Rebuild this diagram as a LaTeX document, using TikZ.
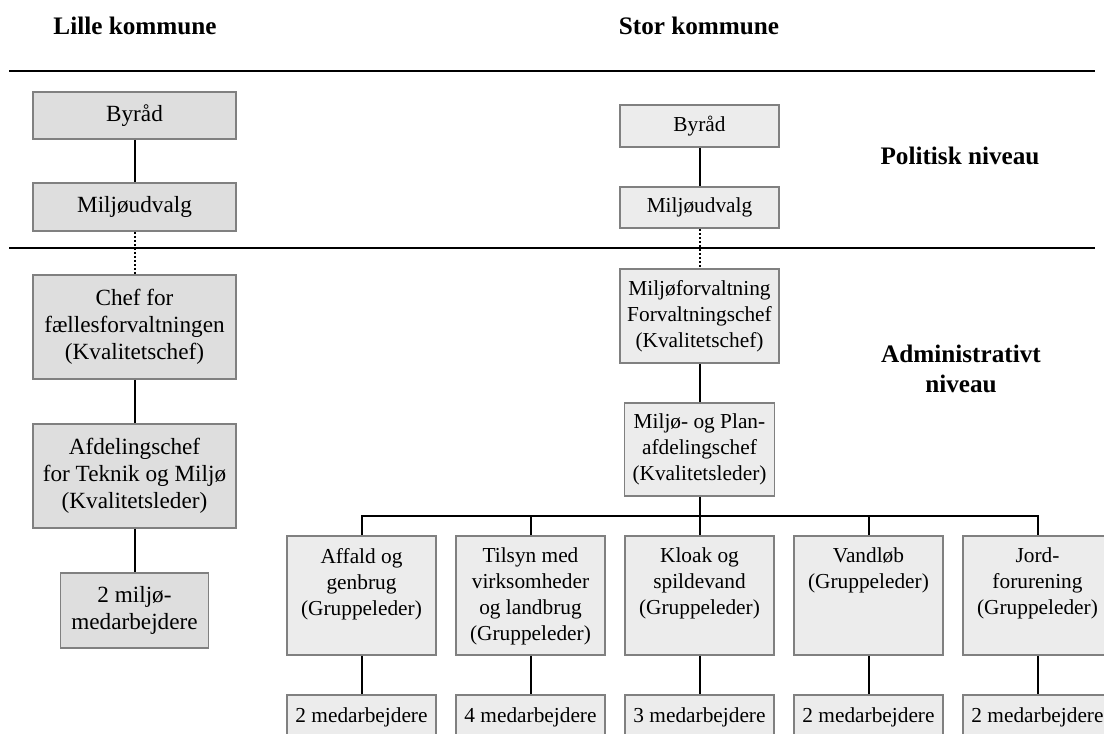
\documentclass[tikz,border=0pt]{standalone}
\usepackage{fontspec}
\setmainfont{Liberation Serif}
\definecolor{boxL}{HTML}{DEDEDE}
\definecolor{boxR}{HTML}{ECECEC}
\definecolor{edge}{HTML}{808080}
\begin{document}
\begin{tikzpicture}[x=0.75pt,y=-0.75pt,
  lbox/.style={draw=edge,line width=1.2pt,fill=boxL,inner sep=0pt,align=center,
    font=\fontsize{17.4}{20.3}\selectfont},
  rbox/.style={draw=edge,line width=1.2pt,fill=boxR,inner sep=0pt,align=center,
    font=\fontsize{16}{19.5}\selectfont},
  head/.style={font=\fontsize{18.9}{22.5}\selectfont\bfseries,align=center,inner sep=0pt},
  conn/.style={line width=1.5pt},
  dotconn/.style={line width=1.5pt,dash pattern=on 2pt off 1pt},
  rule/.style={line width=1.5pt}]
\useasboundingbox (0,0) rectangle (1104,734);
\clip (0,0) rectangle (1104,734);
% headers
\node[head,anchor=base] (hl) at (135,35) {Lille kommune};
\node[head,anchor=base] (hs) at (699,35) {Stor kommune};
\node[head,anchor=base] (hp) at (960,165) {Politisk niveau};
\node[head] (ha) at (961,369) {Administrativt\\niveau};
% rules
\coordinate (r1a) at (9,71); \coordinate (r1b) at (1095,71);
\coordinate (r2a) at (9,248); \coordinate (r2b) at (1095,248);
\draw[rule] (r1a) -- (r1b);
\draw[rule] (r2a) -- (r2b);
% left column
\node[lbox,minimum width=152.25pt,minimum height=35.25pt] (lb) at (134.5,115.5) {Byråd};
\node[lbox,minimum width=152.25pt,minimum height=36pt] (lm) at (134.5,207) {Miljøudvalg};
\node[lbox,minimum width=152.25pt,minimum height=78pt] (lc) at (134.5,327) {Chef for\\fællesforvaltningen\\(Kvalitetschef)};
\node[lbox,minimum width=152.25pt,minimum height=78pt] (la) at (134.5,476) {Afdelingschef\\for Teknik og Miljø\\(Kvalitetsleder)};
\node[lbox,minimum width=111pt,minimum height=56.25pt] (l2) at (134.5,610.5) {2 miljø-\\medarbejdere};
\draw[conn] (lb) -- (lm);
\draw[dotconn] (lm) -- (lc);
\draw[conn] (lc) -- (la);
\draw[conn] (la) -- (l2);
% right column
\node[rbox,minimum width=119.25pt,minimum height=31.5pt] (rb) at (699.5,126) {Byråd};
\node[rbox,minimum width=119.25pt,minimum height=30.75pt] (rm) at (699.5,207.5) {Miljøudvalg};
\node[rbox,minimum width=119.25pt,minimum height=70.5pt] (rf) at (699.5,316) {Miljøforvaltning\\Forvaltningschef\\(Kvalitetschef)};
\node[rbox,minimum width=112.5pt,minimum height=69.75pt] (rp) at (699.5,449.5) {Miljø- og Plan-\\afdelingschef\\(Kvalitetsleder)};
\draw[conn] (rb) -- (rm);
\draw[dotconn] (rm) -- (rf);
\draw[conn] (rf) -- (rp);
% group boxes (text top aligned)
\newcommand{\grp}[1]{\parbox[c][89.25pt][t]{111.75pt}{\centering\vspace{9pt}#1}}
\node[rbox] (g1) at (361.5,595.5) {\grp{Affald og\\genbrug\\(Gruppeleder)}};
\node[rbox] (g2) at (530.5,595.5) {\grp{Tilsyn med\\virksomheder\\og landbrug\\(Gruppeleder)}};
\node[rbox] (g3) at (699.5,595.5) {\grp{Kloak og\\spildevand\\(Gruppeleder)}};
\node[rbox] (g4) at (868.5,595.5) {\grp{Vandløb\\(Gruppeleder)}};
\node[rbox] (g5) at (1037.5,595.5) {\grp{Jord-\\forurening\\(Gruppeleder)}};
\coordinate (bus) at (699.5,516);
\draw[conn] (rp.south) -- (bus);
\draw[conn] (g1.north) |- (bus) -| (g5.north);
\foreach \g in {g2,g3,g4}{\draw[conn] (\g.north) -- (\g.north |- bus);}
% bottom boxes
\foreach \i/\x/\t in {1/361.5/2,2/530.5/4,3/699.5/3,4/868.5/2,5/1037.5/2}{
  \node[rbox,minimum width=111.75pt,minimum height=33pt] (m\i) at (\x,717) {\t\ medarbejdere};
  \draw[conn] (g\i) -- (m\i);
}
\end{tikzpicture}
\end{document}
